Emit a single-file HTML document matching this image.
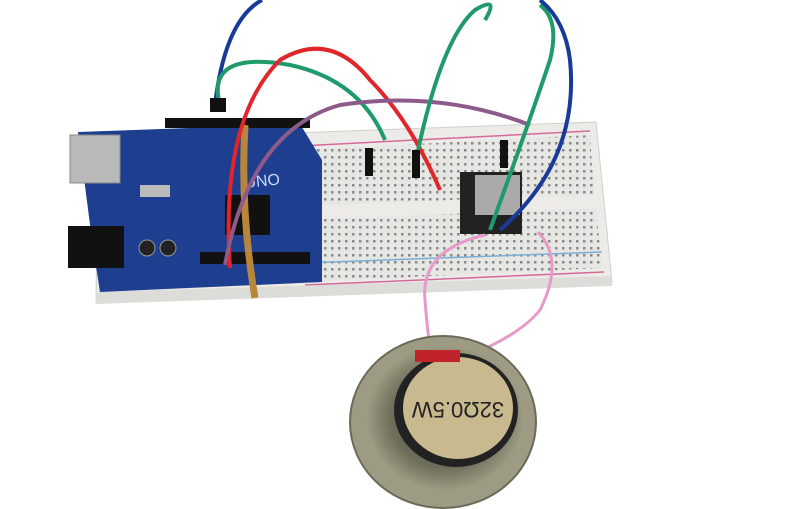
<!DOCTYPE html>
<html><head><meta charset="utf-8"><style>
html,body{margin:0;padding:0;background:#fff;width:800px;height:509px;overflow:hidden}
svg{display:block}
</style></head><body>
<svg width="800" height="509" viewBox="0 0 800 509" xmlns="http://www.w3.org/2000/svg">
<defs>
<pattern id="holes" width="7" height="7" patternUnits="userSpaceOnUse">
<rect width="7" height="7" fill="#e6e6e3"/><rect x="2" y="2" width="2.5" height="2.5" fill="#8a8a88"/>
</pattern>
<radialGradient id="cone" cx="50%" cy="50%" r="50%">
<stop offset="0" stop-color="#3a3a34"/><stop offset="0.7" stop-color="#6f6f5c"/><stop offset="1" stop-color="#9c9a82"/>
</radialGradient>
</defs>
<!-- breadboard -->
<polygon points="98,140 596,122 612,282 96,302" fill="#ecebe8" stroke="#cfcfcb"/>
<polygon points="300,150 590,135 594,195 305,205" fill="url(#holes)"/>
<polygon points="300,220 596,208 602,268 305,282" fill="url(#holes)"/>
<line x1="300" y1="146" x2="590" y2="131" stroke="#d46a9a" stroke-width="1.5"/>
<line x1="305" y1="285" x2="604" y2="272" stroke="#d46a9a" stroke-width="1.5"/>
<line x1="305" y1="263" x2="602" y2="252" stroke="#7ab0d8" stroke-width="1.5"/>
<polygon points="96,292 612,276 612,286 96,304" fill="#dcdcd8"/>
<!-- arduino -->
<polygon points="78,132 300,124 322,160 322,282 100,292 92,240" fill="#1e3f8f"/>
<rect x="165" y="118" width="145" height="10" fill="#111"/>
<rect x="200" y="252" width="110" height="12" fill="#111"/>
<rect x="70" y="135" width="50" height="48" fill="#b9b9b9" stroke="#888"/>
<rect x="68" y="226" width="56" height="42" fill="#111"/>
<rect x="225" y="195" width="45" height="40" fill="#111"/>
<rect x="140" y="185" width="30" height="12" fill="#bbb"/>
<circle cx="147" cy="248" r="8" fill="#222" stroke="#999"/>
<circle cx="168" cy="248" r="8" fill="#222" stroke="#999"/>
<text x="245" y="188" font-family="Liberation Sans,sans-serif" font-size="16" fill="#cfd8ff" transform="rotate(-6 245 188)">UNO</text>
<!-- module -->
<rect x="460" y="172" width="62" height="62" fill="#222"/>
<rect x="475" y="175" width="45" height="40" fill="#aaa"/>
<!-- elastic band -->
<path d="M245 125 Q240 210 255 298" stroke="#b8863a" stroke-width="7" fill="none"/>
<!-- wires -->
<path d="M215 105 Q225 20 262 0" stroke="#1a3a9a" stroke-width="4" fill="none"/>
<path d="M220 105 Q205 50 290 65 Q360 80 385 140" stroke="#1f9a6a" stroke-width="4" fill="none"/>
<path d="M230 268 Q220 120 280 60 Q330 30 370 80 Q410 120 440 190" stroke="#e0262a" stroke-width="4" fill="none"/>
<path d="M225 265 Q250 130 340 105 Q440 90 530 125" stroke="#8e5a8a" stroke-width="4" fill="none"/>
<path d="M415 165 Q440 40 475 10 Q500 -5 485 20" stroke="#1f9a6a" stroke-width="4" fill="none"/>
<path d="M490 230 Q530 120 550 60 Q560 20 540 5" stroke="#1f9a6a" stroke-width="4" fill="none"/>
<path d="M500 230 Q580 160 570 60 Q565 20 540 0" stroke="#1a3a9a" stroke-width="4" fill="none"/>
<path d="M485 235 Q420 250 425 300 Q428 340 432 356" stroke="#e69ac8" stroke-width="3" fill="none"/>
<path d="M538 232 Q565 260 540 310 Q520 335 468 356" stroke="#e69ac8" stroke-width="3" fill="none"/>
<rect x="210" y="98" width="16" height="14" fill="#111"/>
<rect x="365" y="148" width="8" height="28" fill="#111"/>
<rect x="412" y="150" width="8" height="28" fill="#111"/>
<rect x="500" y="140" width="8" height="28" fill="#111"/>
<!-- speaker -->
<ellipse cx="443" cy="422" rx="93" ry="86" fill="#9d9b84" stroke="#6b6a58" stroke-width="2"/>
<ellipse cx="445" cy="418" rx="78" ry="72" fill="url(#cone)"/>
<ellipse cx="456" cy="410" rx="62" ry="57" fill="#222"/>
<ellipse cx="458" cy="408" rx="55" ry="51" fill="#c9b98f"/>
<rect x="415" y="350" width="45" height="12" fill="#c2232a"/>
<text x="458" y="418" text-anchor="middle" font-family="Liberation Sans,sans-serif" font-size="22" fill="#222" transform="rotate(180 458 410) scale(1,1)">32Ω0.5W</text>
</svg>
</body></html>
